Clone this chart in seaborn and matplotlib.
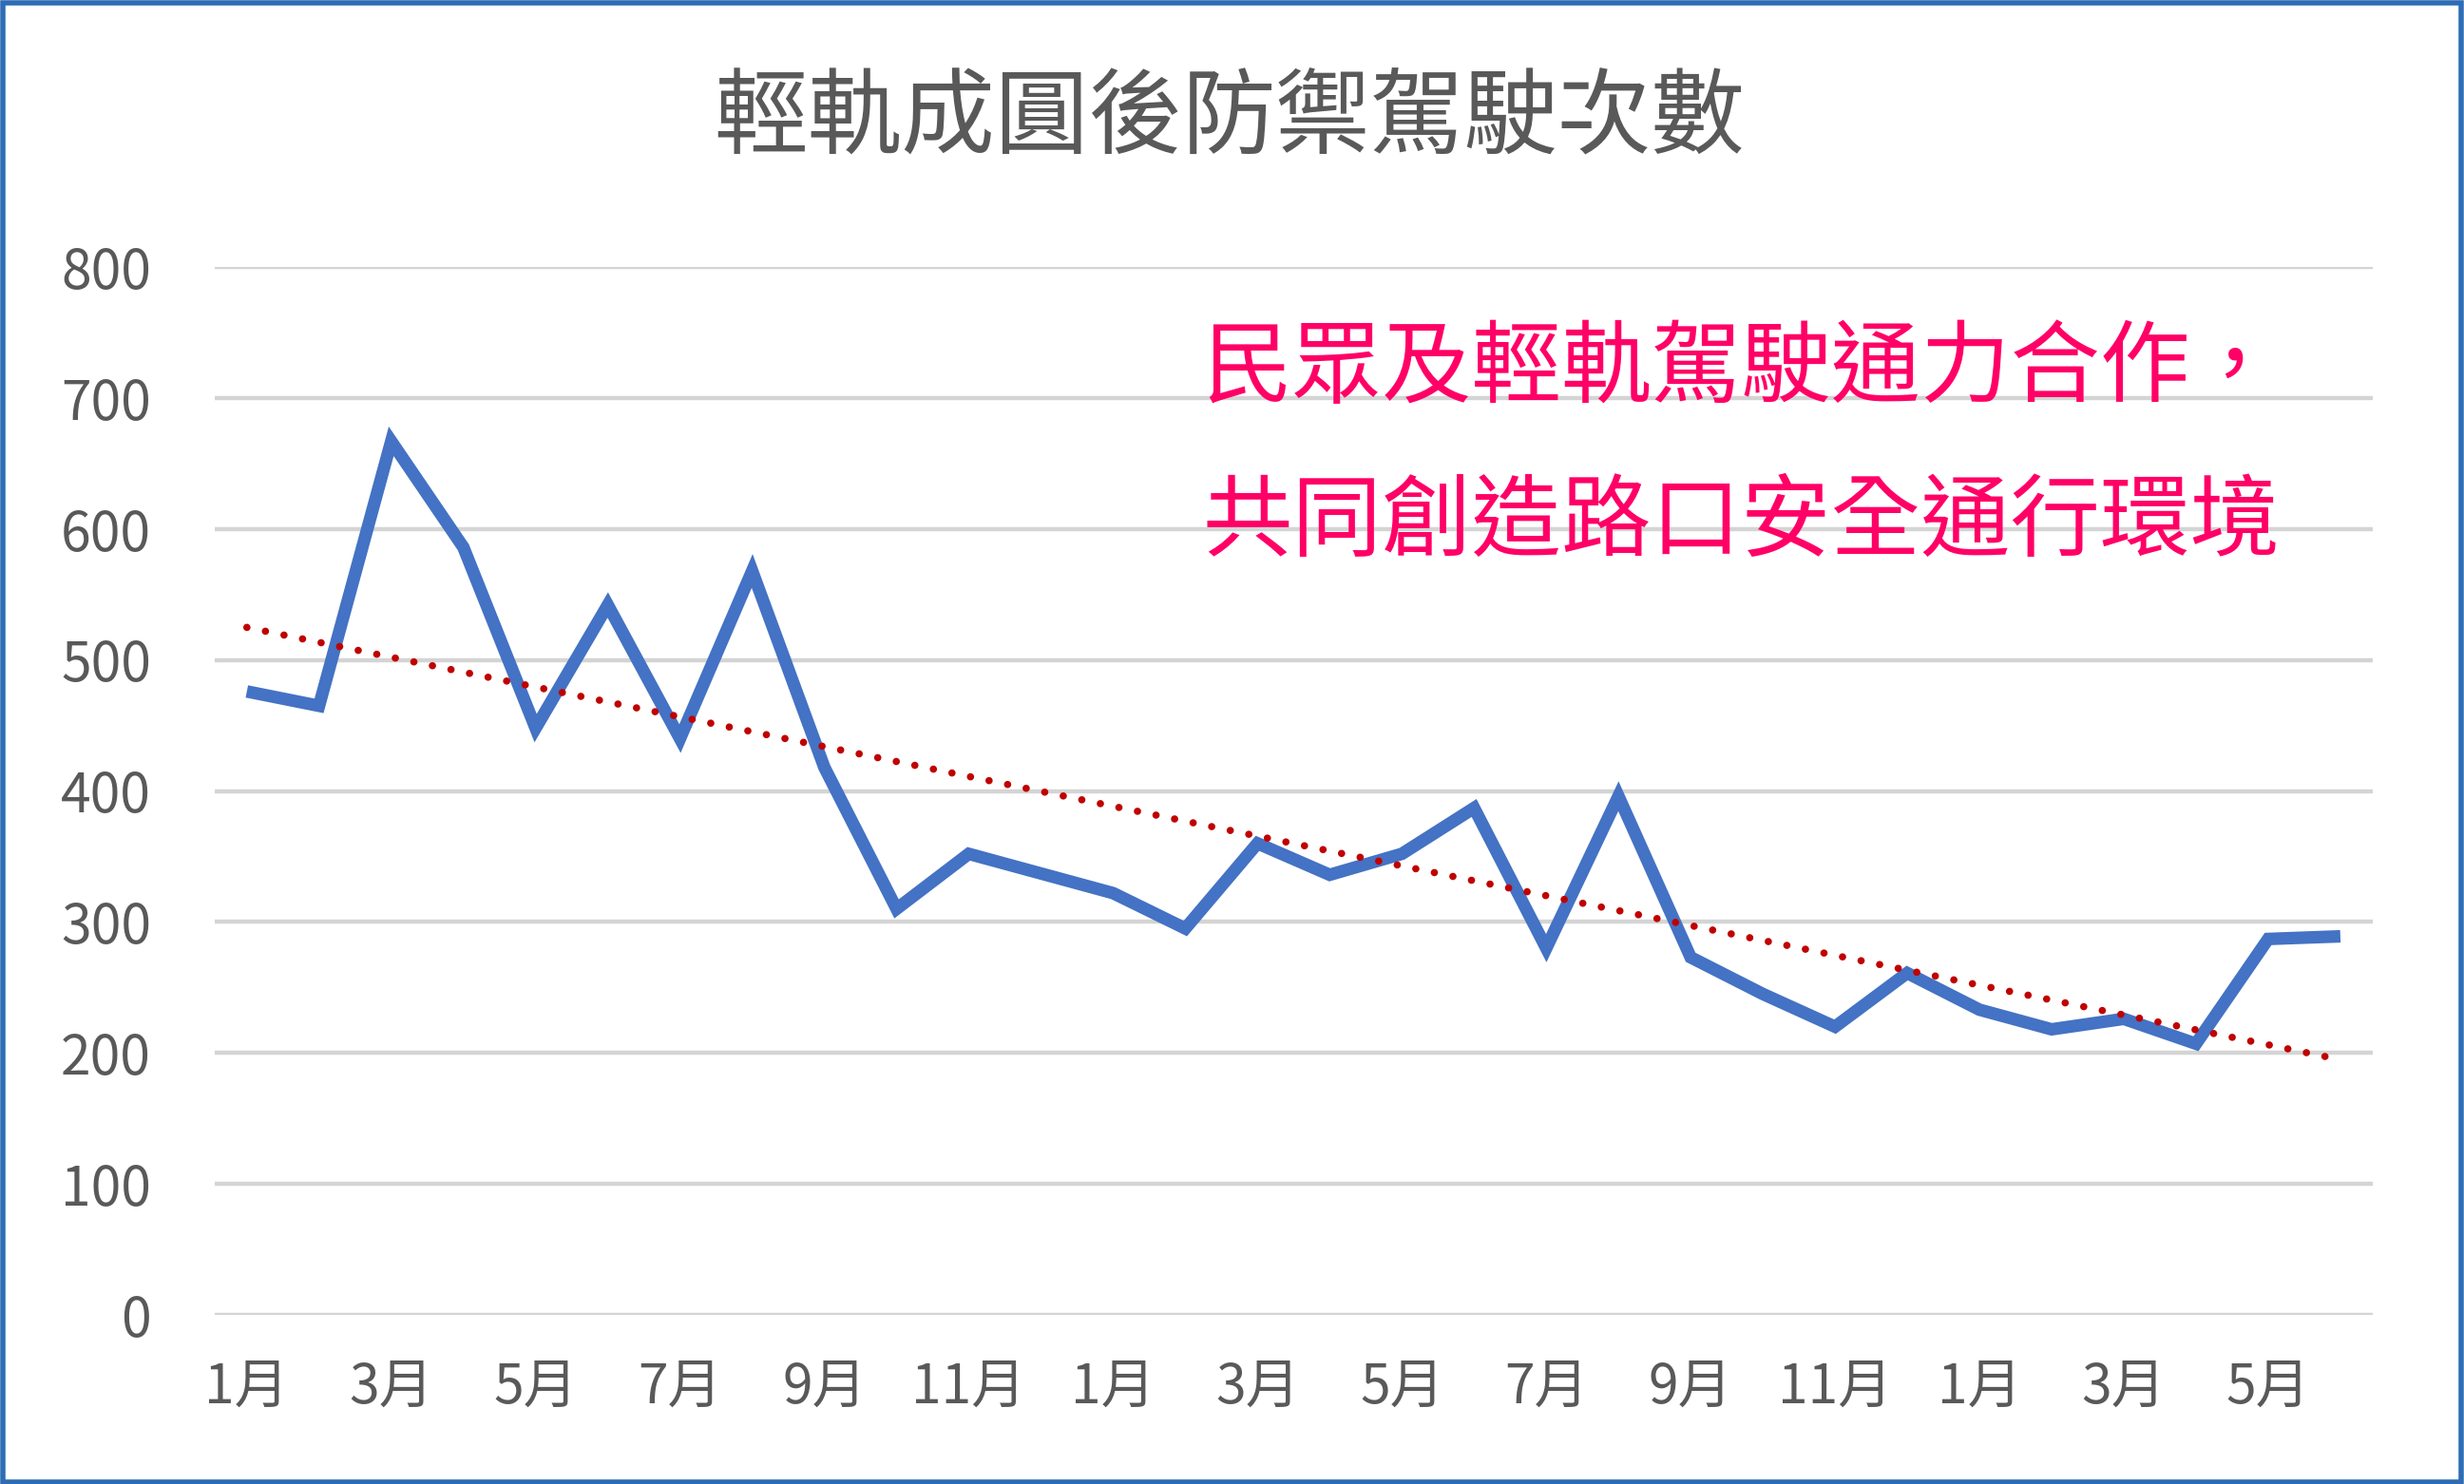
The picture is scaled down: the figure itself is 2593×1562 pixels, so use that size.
import numpy as np
import pandas as pd
import matplotlib
matplotlib.use("Agg")
import matplotlib.pyplot as plt
import seaborn as sns
from matplotlib.patches import Rectangle

# monthly defensive-driving counts after light rail became circular
months = [1, 2, 3, 4, 5, 6, 7, 8, 9, 10, 11, 12,
          1, 2, 3, 4, 5, 6, 7, 8, 9, 10, 11, 12,
          1, 2, 3, 4, 5, 6]
counts = [476, 465, 667, 586, 448, 542, 440, 568, 418, 310,
          352, 337, 322, 295, 360, 336, 352, 387, 280, 396,
          273, 245, 220, 261, 233, 218, 226, 207, 287, 289]
title = "輕軌成圓後防禦駕駛次數"
note_lines = ["民眾及輕軌駕駛通力合作，", "共同創造路口安全通行環境"]
y_ticks = [0, 100, 200, 300, 400, 500, 600, 700, 800]

df = pd.DataFrame({"idx": range(len(counts)), "count": counts})

sns.set_style("whitegrid", {"grid.color": "#D4D4D4"})
plt.rcParams["font.family"] = ["Noto Sans CJK TC", "DejaVu Sans"]

fig = plt.figure(figsize=(25.93, 15.62), dpi=100)
ax = fig.add_axes([0.087, 0.114, 0.876, 0.706])

sns.lineplot(data=df, x="idx", y="count", ax=ax, color="#4472C4",
             linewidth=9.5, solid_joinstyle="miter", solid_capstyle="butt")

# linear trend line (dotted)
sns.regplot(data=df, x="idx", y="count", ax=ax, scatter=False, ci=None,
            line_kws={"color": "#C00000", "linewidth": 5.5,
                      "linestyle": (0, (0.01, 2.6)),
                      "dash_capstyle": "round"})

ax.set_xlim(-0.45, len(counts) - 0.55)
ax.set_ylim(0, 800)
ax.set_yticks(y_ticks)
ax.set_yticklabels([str(v) for v in y_ticks])
tick_pos = list(range(0, len(counts), 2))
ax.set_xticks(tick_pos)
ax.set_xticklabels([f"{months[i]}月" for i in tick_pos])

ax.grid(axis="x", visible=False)
ax.grid(axis="y", linewidth=3.2, color="#D4D4D4")
ax.set_axisbelow(True)
for s in ax.spines.values():
    s.set_visible(False)
ax.tick_params(axis="both", length=0, labelsize=41, colors="#595959")
ax.tick_params(axis="y", pad=48)
ax.tick_params(axis="x", pad=34)
ax.set_xlabel("")
ax.set_ylabel("")

fig.text(0.499, 0.919, title, ha="center", va="center",
         fontsize=71, color="#595959")
fig.text(0.488, 0.751, note_lines[0], ha="left", va="center",
         fontsize=68, color="#FF0066")
fig.text(0.488, 0.647, note_lines[1], ha="left", va="center",
         fontsize=68, color="#FF0066")

# outer frame like the pasted Excel chart
fig.patches.append(Rectangle((0.001, 0.001), 0.998, 0.997, transform=fig.transFigure,
                             fill=False, edgecolor="#2E6DB4", linewidth=4))

fig.savefig("out.png", dpi=100)
